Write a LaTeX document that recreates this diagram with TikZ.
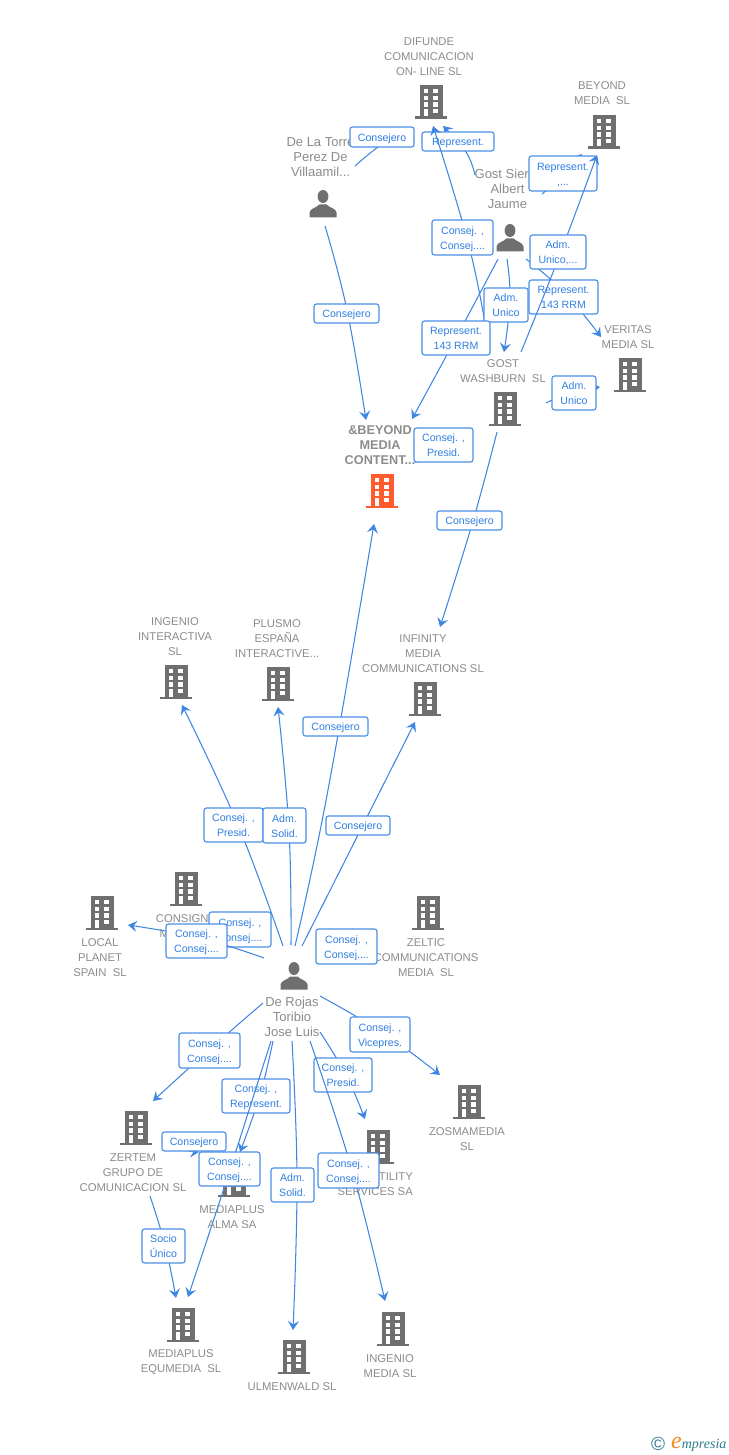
\documentclass[tikz,border=0pt]{standalone}
\usepackage{fontspec}
\setmainfont{Liberation Sans}
\newfontfamily\logofont{Liberation Serif}
\usetikzlibrary{arrows.meta}
\definecolor{lineblue}{HTML}{3F86E2}
\definecolor{boxblue}{HTML}{4C90E8}
\definecolor{txtblue}{HTML}{2F7FE3}
\definecolor{txtgray}{HTML}{8C8C8C}
\definecolor{icongray}{HTML}{6F6F6F}
\definecolor{iconorange}{HTML}{FF5B2E}
\definecolor{logoteal}{HTML}{2F7C90}
\definecolor{logoorange}{HTML}{F28A1E}
\tikzset{
  conn/.style={draw=lineblue,line width=1.05pt,-{Stealth[length=9pt,width=11pt,inset=3.5pt]}},
  stub/.style={draw=lineblue,line width=1.05pt},
  lbl/.style={draw=boxblue,line width=1.15pt,rounded corners=2.5pt,fill=white,text=txtblue,align=center,inner sep=0pt,
    font=\fontsize{10.6}{15}\selectfont},
  co/.style={text=txtgray,align=center,inner sep=0pt,font=\fontsize{11.3}{15}\selectfont},
  cob/.style={co,font=\fontsize{12.7}{15}\selectfont\bfseries},
  pe/.style={text=txtgray,align=center,inner sep=0pt,font=\fontsize{13}{15}\selectfont},
  anchorbox/.style={inner sep=0pt,minimum width=32pt,minimum height=34pt}
}
\newcommand\bld[4]{%
  \node[anchorbox] (#1) at (#2,#3+17) {};
  \begin{scope}[shift={(#2,#3)}]
    \fill[#4] (-11.5,0) rectangle (11.5,31.5);
    \fill[#4] (-16,31.5) rectangle (16,34);
    \foreach \r in {4,10.7,17.3}{
      \fill[white] (-7.5,\r) rectangle (-2.8,\r+4.3);
      \fill[white] (2,\r) rectangle (6.8,\r+4.3);
    }
    \fill[white] (-7.5,24) rectangle (-2.8,31.5);
    \fill[white] (2,24) rectangle (6.8,28.3);
  \end{scope}}
\newcommand\per[3]{%
  \node[inner sep=0pt,minimum width=28pt,minimum height=28pt] (#1) at (#2,#3+14) {};
  \begin{scope}[shift={(#2,#3)}]
    \fill[icongray] (0,6.5) ellipse (5.4pt and 6.5pt);
    \fill[icongray] (-13.5,27.5) -- (-13.5,22.5) .. controls (-13,18.5) and (-7,18) .. (-3.5,14.5) -- (3.5,14.5) .. controls (7,18) and (13,18.5) .. (13.5,22.5) -- (13.5,27.5) -- cycle;
  \end{scope}}
% id, start, via points, end
\newcommand\cn[4]{%
  \coordinate (#1-s) at (#2);
  \coordinate (#1-t) at (#4);
  \draw[conn] plot[smooth,tension=.7] coordinates {(#1-s) #3 (#1-t)};}
% name, x1, y1, x2, y2, text
\newcommand\lb[6]{%
  \node[lbl,minimum width={(#4-#2)*1pt},minimum height={(#5-#3)*1pt}] (#1) at ({(#2+#4)/2},{(#3+#5)/2}) {\raisebox{-4.1pt}[0pt][0pt]{\begin{tabular}{@{}c@{}}#6\end{tabular}}};}
\begin{document}
\begin{tikzpicture}[x=1pt,y=-1pt]
\useasboundingbox (0,0) rectangle (728,1455);
\fill[white] (0,0) rectangle (728,1455);
% buildings
\bld{bDifunde}{431}{85}{icongray}
\bld{bBeyond}{604}{115}{icongray}
\bld{bVeritas}{630}{358}{icongray}
\bld{bGost}{505}{392}{icongray}
\bld{bAnd}{382}{474}{iconorange}
\bld{bIngInt}{176}{665}{icongray}
\bld{bPlusmo}{278}{667}{icongray}
\bld{bInfinity}{425}{682}{icongray}
\bld{bConsigna}{186}{872}{icongray}
\bld{bLocal}{102}{896}{icongray}
\bld{bZeltic}{428}{896}{icongray}
\bld{bZertem}{136}{1111}{icongray}
\bld{bZosma}{469}{1085}{icongray}
\bld{bUtility}{378}{1130}{icongray}
\bld{bAlma}{234}{1163}{icongray}
\bld{bEqu}{183}{1308}{icongray}
\bld{bUlmen}{294}{1340}{icongray}
\bld{bIngMedia}{393}{1312}{icongray}
\per{pTorre}{323}{190}
\per{pGost}{510}{224}
\per{pRojas}{294}{962}
% texts
\node[co] (tDifunde) at (429,56.5) {DIFUNDE\\COMUNICACION\\ON- LINE SL};
\node[co] (tBeyond) at (602,93) {BEYOND\\MEDIA\ \ SL};
\node[pe] (tTorre) at (320.5,157) {De La Torre\\Perez De\\Villaamil...};
\node[pe] (tGost) at (507.5,189) {Gost Sierra\\Albert\\Jaume};
\node[co] (tVeritas) at (628,337) {VERITAS\\MEDIA SL};
\node[co] (tGostW) at (503,371) {GOST\\WASHBURN\ \ SL};
\node[cob] (tAnd) at (380,445.5) {\&BEYOND\\MEDIA\\CONTENT...};
\node[co] (tInfinity) at (423,653.5) {INFINITY\\MEDIA\\COMMUNICATIONS SL};
\node[co] (tIngInt) at (175,636.5) {INGENIO\\INTERACTIVA\\SL};
\node[co] (tPlusmo) at (277,638.5) {PLUSMO\\ESPAÑA\\INTERACTIVE...};
\node[co] (tConsigna) at (186,926) {CONSIGNA\\MEDIA SL};
\node[co] (tLocal) at (100,957.5) {LOCAL\\PLANET\\SPAIN\ \ SL};
\node[co] (tZeltic) at (426,957.5) {ZELTIC\\COMMUNICATIONS\\MEDIA\ \ SL};
\node[pe] (tRojas) at (292,1017) {De Rojas\\Toribio\\Jose Luis};
\node[co] (tZertem) at (133,1172.5) {ZERTEM\\GRUPO DE\\COMUNICACION SL};
\node[co] (tZosma) at (467,1139) {ZOSMAMEDIA\\SL};
\node[co,align=right,anchor=east] (tUtility) at (413,1184) {UTILITY\\SERVICES SA};
\node[co] (tAlma) at (232,1217) {MEDIAPLUS\\ALMA SA};
\node[co] (tEqu) at (181,1362) {MEDIAPLUS\\EQUMEDIA\ \ SL};
\node[co] (tUlmen) at (292,1386.5) {ULMENWALD SL};
\node[co] (tIngMedia) at (390,1366) {INGENIO\\MEDIA SL};
% connectors and their labels, in drawing order
\cn{e1}{355,166}{(378,147)}{408,127}
\lb{l1}{350}{127}{414}{147}{Consejero}
\cn{e2}{325,226}{(347,310)}{366,420}
\lb{l2}{314}{304}{379}{323}{Consejero}
\cn{e3}{475,175}{(466,152)}{443,126}
\lb{l3}{422}{132}{494}{151}{Represent.}
\cn{e4}{490,353}{(470,250)}{433,126}
\lb{l4}{432}{220}{493}{255}{Consej. ,\\Consej....}
\cn{e5}{542,194}{(560,178)}{582,154}
\lb{l5}{529}{156}{597}{191}{Represent.\\,...}
\cn{e6}{526,259}{(564,292)}{601,337}
\lb{l6}{529}{280}{598}{314}{Represent.\\143 RRM}
\cn{e7}{521,352}{(557,262)}{597,155}
\lb{l7}{530}{235}{586}{269}{Adm.\\Unico,...}
\cn{e8}{507,259}{(510,300)}{504,352}
\lb{l8}{484}{288}{528}{322}{Adm.\\Unico}
\cn{e9}{498,259}{(456,338)}{412,419}
\lb{l9}{422}{321}{490}{355}{Represent.\\143 RRM}
\cn{e10}{546,403}{(570,393)}{600,387}
\lb{l10}{552}{376}{596}{410}{Adm.\\Unico}
\coordinate (e11-s) at (415,462);
\draw[stub] (e11-s) -- (425,461);
\lb{l11}{414}{428}{473}{462}{Consej. ,\\Presid.}
\cn{e12}{497,432}{(473,521)}{440,627}
\lb{l12}{437}{511}{502}{530}{Consejero}
\cn{e13}{295,946}{(328,790)}{374,524}
\lb{l13}{303}{717}{368}{736}{Consejero}
\cn{e14}{283,946}{(238,825)}{182,705}
\lb{l14}{204}{808}{263}{842}{Consej. ,\\Presid.}
\cn{e15}{291,945}{(289,830)}{278,707}
\lb{l15}{263}{808}{306}{843}{Adm.\\Solid.}
\cn{e16}{302,946}{(363,825)}{415,722}
\lb{l16}{326}{816}{390}{835}{Consejero}
\lb{l17}{209}{912}{271}{947}{Consej. ,\\Consej....}
\cn{e18}{264,958}{(200,938)}{128,925}
\lb{l18}{166}{924}{227}{958}{Consej. ,\\Consej....}
\lb{l19}{316}{929}{377}{964}{Consej. ,\\Consej....}
\cn{e20}{263,1003}{(209,1050)}{153,1101}
\lb{l20}{179}{1033}{240}{1068}{Consej. ,\\Consej....}
\cn{e21}{320,996}{(385,1034)}{440,1075}
\lb{l21}{350}{1017}{410}{1052}{Consej. ,\\Vicepres.}
\cn{e22}{320,1032}{(346,1075)}{365,1119}
\lb{l22}{314}{1058}{372}{1092}{Consej. ,\\Presid.}
\cn{e23}{310,1041}{(352,1170)}{385,1301}
\lb{l23}{318}{1153}{379}{1188}{Consej. ,\\Consej....}
\cn{e24}{292,1041}{(297,1180)}{293,1330}
\lb{l24}{271}{1168}{314}{1202}{Adm.\\Solid.}
\cn{e25}{273,1041}{(260,1095)}{240,1152}
\lb{l25}{222}{1079}{290}{1113}{Consej. ,\\Represent.}
\cn{e26}{271,1041}{(225,1185)}{188,1297}
\cn{e27}{170,1142}{(185,1150)}{199,1152}
\lb{l27}{162}{1132}{226}{1151}{Consejero}
\lb{l26}{199}{1152}{260}{1186}{Consej. ,\\Consej....}
\cn{e28}{150,1196}{(165,1245)}{176,1298}
\lb{l28}{142}{1229}{185}{1263}{Socio\\Único}
% logo
\node[inner sep=0pt,text=logoteal,font=\fontsize{19}{19}\selectfont] (logoC) at (658,1444) {©};
\node[inner sep=0pt,anchor=base west,font=\logofont\itshape\fontsize{14}{15}\selectfont,text=logoteal] (logoT) at (671,1448.5) {{\color{logoorange}\fontsize{24}{15}\selectfont e}mpresia};
\end{tikzpicture}
\end{document}
